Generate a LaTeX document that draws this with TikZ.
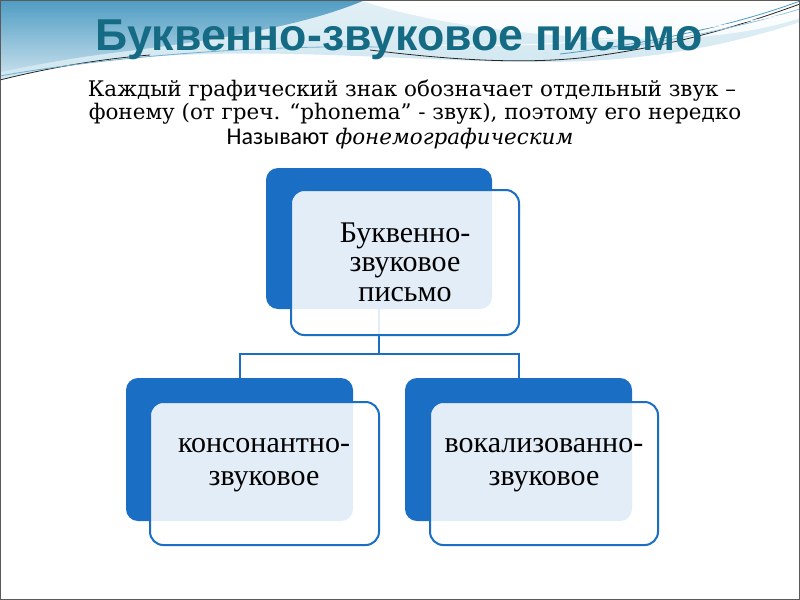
\documentclass[tikz,border=0pt]{standalone}
\usepackage{fontspec}
\setmainfont{Liberation Serif}
\newfontfamily\titlefont{Liberation Sans}
\newfontfamily\bodyfont{DejaVu Serif}
\newfontfamily\calfont{Carlito}
\usetikzlibrary{fit,calc}
\definecolor{boxblue}{HTML}{1A6FC4}
\definecolor{titleteal}{HTML}{156B83}
\definecolor{skyA}{HTML}{4F9CC3}
\definecolor{skyB}{HTML}{CFE6F0}
\definecolor{frame}{HTML}{5A5A5A}
\begin{document}
\begin{tikzpicture}[x=0.75pt,y=-0.75pt,
  darkbox/.style={fill=boxblue, rounded corners=9pt, inner sep=0pt},
  frontbox/.style={draw=boxblue, line width=1.5pt, fill=white, fill opacity=0.88, rounded corners=10pt, inner sep=0pt},
  conn/.style={draw=boxblue, line width=1.5pt},
  boxtext/.style={align=center, font=\fontsize{22.5}{22}\selectfont, text=black, inner sep=0pt},
  boxtextb/.style={boxtext, font=\fontsize{22.5}{24.5}\selectfont},
  bodyline/.style={anchor=base, font=\bodyfont\fontsize{16.1}{20}\selectfont, inner sep=0pt},
  decoline/.style={line width=0.6pt},
]
\useasboundingbox (0,0) rectangle (800,600);
% background
\fill[white] (0,0) rectangle (800,600);
\shade[top color=skyB!60!white, bottom color=skyB] (0,0) -- (800,0) -- (800,22) .. controls (720,48) and (640,62) .. (540,62) .. controls (420,62) and (300,48) .. (160,56) .. controls (90,60) and (40,70) .. (0,80) -- cycle;
\shade[top color=white, bottom color=white!80!skyB] (360,0) .. controls (430,25) and (560,42) .. (680,38) .. controls (740,35) and (780,25) .. (800,18) -- (800,0) -- cycle;
\shade[shading=axis, shading angle=200, top color=skyA, bottom color=skyA!35!white] (0,0) -- (365,0) .. controls (300,28) and (200,42) .. (120,52) .. controls (70,58) and (30,66) .. (0,72) -- cycle;
\draw[decoline, black!85] (0,80) .. controls (40,70) and (90,60) .. (150,55);
\draw[decoline, skyA!80] (0,76) .. controls (100,58) and (250,45) .. (380,47);
\draw[decoline, black!85] (370,50) .. controls (450,60) and (520,64) .. (580,58) .. controls (680,46) and (750,22) .. (800,4);
\draw[decoline, skyA] (560,54) .. controls (680,40) and (760,16) .. (800,1);
\draw[decoline, skyA!60] (600,50) .. controls (700,38) and (770,18) .. (800,9);
\draw[decoline, white] (420,44) .. controls (520,50) and (650,40) .. (800,12);

% title and body
\node[anchor=base, inner sep=0pt, text=titleteal, font=\titlefont\bfseries\fontsize{33.5}{36}\selectfont] (title) at (399,50) {Буквенно-звуковое письмо};
\node[bodyline] (l1) at (412,96) {Каждый графический знак обозначает отдельный звук –};
\node[bodyline] (l2) at (415,119) {фонему (от греч. “phonema” - звук), поэтому его нередко};
\node[bodyline] (l3) at (400,144) {{\calfont\fontsize{18}{20}\selectfont Называют} \textit{фонемографическим}};

% dark boxes
\node[darkbox, fit={(266,168) (492,309)}] (d1) {};
\node[darkbox, fit={(126,378) (353,521)}] (d2) {};
\node[darkbox, fit={(405,378) (632,521)}] (d3) {};

% connectors
\coordinate (hub) at (379,354);
\draw[conn] (d1.south) -- (hub);
\draw[conn] (d2.north) |- (hub) -| (d3.north);

% front boxes
\node[frontbox, fit={(291,190) (519,335)}] (f1) {};
\node[frontbox, fit={(150,402) (379,545)}] (f2) {};
\node[frontbox, fit={(430,402) (658,545)}] (f3) {};

% texts
\node[boxtext] (t1) at (405,262) {Буквенно-\\звуковое\\письмо};
\node[boxtextb] (t2) at (264,465) {консонантно-\\звуковое};
\node[boxtextb] (t3) at (544,465) {вокализованно-\\звуковое};

% frame
\draw[frame, line width=0.75pt] (0.5,0.5) rectangle (799.5,599.5);
\end{tikzpicture}
\end{document}
